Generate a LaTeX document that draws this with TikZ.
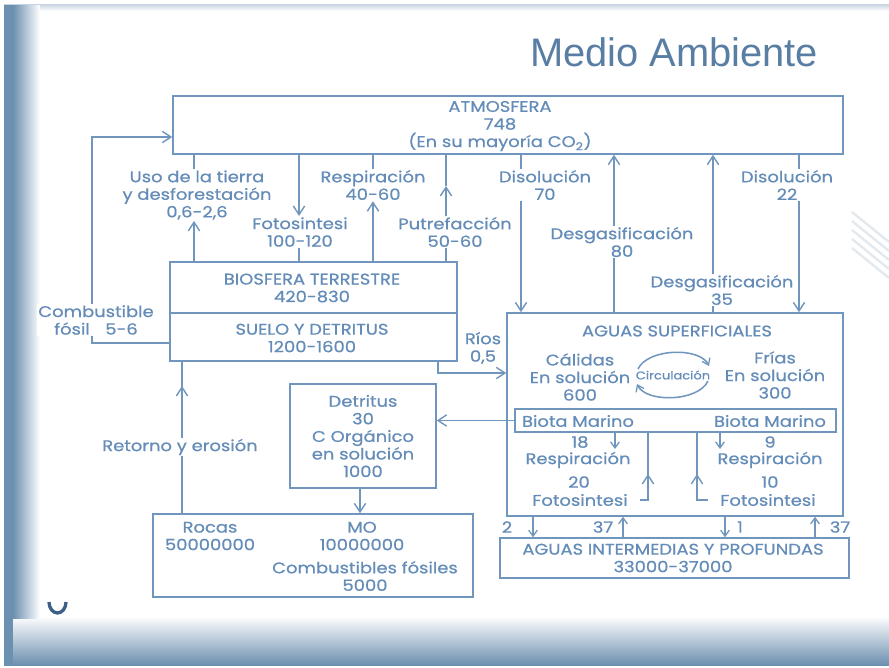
\documentclass[tikz,border=0pt]{standalone}
\usepackage{fontspec}
\setmainfont{Poppins}[FakeStretch=1.16,FakeBold=0.6]
\newfontfamily\titlefont{Liberation Sans}
\usetikzlibrary{arrows.meta,fit,shapes.geometric}
\definecolor{lc}{RGB}{112,150,190}
\definecolor{tx}{RGB}{100,140,184}
\definecolor{ttl}{RGB}{88,126,163}
\definecolor{band}{RGB}{108,144,176}
\definecolor{umark}{RGB}{62,95,135}
\begin{document}
\begin{tikzpicture}[x=0.03cm,y=-0.03cm,
  box/.style={draw=lc,line width=1.3pt,inner sep=0pt},
  txt/.style={text=tx,font=\fontsize{13.2}{15}\selectfont,align=center,inner sep=1pt},
  stxt/.style={txt,font=\fontsize{9.6}{10}\selectfont},
  lbl/.style={txt,fill=white},
  wire/.style={draw=lc,line width=1.3pt},
  arr/.style={wire,-{Straight Barb[length=2.6mm,width=3.4mm,line width=1.2pt]}},
  sarr/.style={wire,-{Straight Barb[length=1.8mm,width=2.6mm,line width=1.1pt]}}]
% ---------- slide background ----------
\useasboundingbox (0,0) rectangle (889,668);
\fill[white] (0,0) rectangle (889,668);
\shade[top color=band!40,bottom color=white] (4,4) rectangle (889,11);
\shade[top color=white,middle color=band!30,bottom color=band] (4,616) rectangle (889,665);
\fill[band] (4,5) rectangle (13,665);
\shade[left color=band,right color=white] (13,5) rectangle (40,618);
\foreach \k in {0,9,18,27,36} {\draw[band!20,line width=2pt] (852,212+\k) -- (889,242+\k);}
\draw[umark,line width=2.8pt] (49,602) arc[start angle=180,end angle=360,x radius=8.5,y radius=-11];
\node[font=\titlefont\fontsize{34}{40}\selectfont,text=ttl,anchor=base] (title) at (674,66) {Medio Ambiente};
% ---------- boxes ----------
\coordinate (a1) at (173,96); \coordinate (a2) at (843,154);
\node[box,fit=(a1)(a2)] (atm) {};
\coordinate (b1) at (170,262); \coordinate (b2) at (457,361);
\node[box,fit=(b1)(b2)] (bio) {};
\coordinate (bd) at (0,313);
\draw[wire] (bd -| bio.west) -- (bd -| bio.east);
\coordinate (w1) at (507,313); \coordinate (w2) at (843,516);
\node[box,fit=(w1)(w2)] (ags) {};
\coordinate (m1) at (515,409); \coordinate (m2) at (836,432);
\node[box,line width=1pt,fit=(m1)(m2)] (biota) {};
\coordinate (d1) at (290,384); \coordinate (d2) at (436,488);
\node[box,fit=(d1)(d2)] (det) {};
\coordinate (r1) at (153,514); \coordinate (r2) at (473,597);
\node[box,fit=(r1)(r2)] (roc) {};
\coordinate (i1) at (500,538); \coordinate (i2) at (849,578);
\node[box,fit=(i1)(i2)] (agi) {};
% ---------- box texts ----------
\node[txt] (atmt) at (500,126) {ATMOSFERA\\748\\(En su mayoría CO\textsubscript{2})};
\node[txt] (biot) at (312,288) {BIOSFERA TERRESTRE\\420-830};
\node[txt] (suel) at (312,338) {SUELO Y DETRITUS\\1200-1600};
\node[txt] (agst) at (677,331) {AGUAS SUPERFICIALES};
\node[txt] (cal) at (580,377) {Cálidas\\En solución\\600};
\node[txt] (fri) at (775,375) {Frías\\En solución\\300};
\node[ellipse,minimum width=73*0.03cm,minimum height=46*0.03cm,inner sep=0pt,stxt] (circ) at (673,375) {Circulación};
\draw[sarr] (638,369) .. controls (648,348) and (700,347) .. (709,366);
\draw[sarr] (708,381) .. controls (698,402) and (646,403) .. (637,384);
\node[txt] (bm1) at (578,421) {Biota Marino};
\node[txt] (bm2) at (770,421) {Biota Marino};
\node[txt] (n18) at (580,442) {18};
\node[txt] (rs1) at (578,460) {Respiración};
\node[txt] (n20) at (579,482) {20};
\node[txt] (fs1) at (580,500) {Fotosintesi};
\node[txt] (n9) at (770,442) {9};
\node[txt] (rs2) at (770,460) {Respiración};
\node[txt] (n10) at (770,482) {10};
\node[txt] (fs2) at (768,500) {Fotosintesi};
\node[txt] (agit) at (673,558) {AGUAS INTERMEDIAS Y PROFUNDAS\\33000-37000};
\node[txt] (dett) at (363,436) {Detritus\\30\\C Orgánico\\en solución\\1000};
\node[txt] (rocas) at (210,536) {Rocas\\50000000};
\node[txt] (mo) at (362,536) {MO\\10000000};
\node[txt] (cfos) at (365,576) {Combustibles fósiles\\5000};
\node[txt] (e1t) at (507,527) {2};
\node[txt] (e2t) at (603,527) {37};
\node[txt] (e3t) at (740,527) {1};
\node[txt] (e4t) at (840,527) {37};
% ---------- helper coordinates ----------
\coordinate (xU) at (194,0);
\coordinate (xF) at (299,0);
\coordinate (xR) at (373,0);
\coordinate (xP) at (446,0);
\coordinate (xD1) at (521,0);
\coordinate (xG1) at (614,0);
\coordinate (xG2) at (713,0);
\coordinate (xD2) at (799,0);
\coordinate (xRt) at (182,0);
\coordinate (xDR) at (360,0);
\coordinate (cA) at (92,137);
\coordinate (cB) at (92,343);
\coordinate (rr) at (438,373);
\coordinate (rtTip) at (182,386);
\coordinate (pTip) at (446,186);
% ---------- connectors under labels ----------
\draw[arr] (xG1 |- ags.north) -- (xG1 |- atm.south);
\draw[arr] (xG2 |- ags.north) -- (xG2 |- atm.south);
\draw[arr] (cB -| bio.west) -- (cB) -- (cA) -- (cA -| atm.west);
\draw[wire] (xRt |- roc.north) -- (xRt |- bio.south);
\draw[arr] (xRt |- roc.north) -- (rtTip);
% ---------- labels ----------
\node[lbl] (uso) at (197,195) {Uso de la tierra\\y desforestación\\0,6-2,6};
\node[lbl] (foto) at (300,232) {Fotosintesi\\100-120};
\node[lbl] (resp) at (373,185) {Respiración\\40-60};
\node[lbl] (putre) at (455,232) {Putrefacción\\50-60};
\node[lbl] (d70) at (545,185) {Disolución\\70};
\node[lbl] (g80) at (622,242) {Desgasificación\\80};
\node[lbl] (g35) at (722,290) {Desgasificación\\35};
\node[lbl] (d22) at (787,185) {Disolución\\22};
\node[lbl] (comb) at (96,320) {Combustible\\fósil\quad 5-6};
\node[lbl] (rios) at (483,348) {Ríos\\0,5};
\node[lbl] (ret) at (180,447) {Retorno y erosión};
% ---------- connectors to labels ----------
\draw[arr] (xU |- bio.north) -- (xU |- uso.south);
\draw[wire] (xU |- uso.north) -- (xU |- atm.south);
\draw[arr] (xF |- atm.south) -- (xF |- foto.north);
\draw[wire] (xF |- foto.south) -- (xF |- bio.north);
\draw[arr] (xR |- bio.north) -- (xR |- resp.south);
\draw[wire] (xR |- resp.north) -- (xR |- atm.south);
\draw[arr] (xP |- putre.north) -- (pTip);
\draw[wire] (pTip) -- (xP |- atm.south);
\draw[wire] (xP |- putre.south) -- (xP |- bio.north);
\draw[wire] (xD1 |- atm.south) -- (xD1 |- d70.north);
\draw[arr] (xD1 |- d70.south) -- (xD1 |- ags.north);
\draw[wire] (xD2 |- atm.south) -- (xD2 |- d22.north);
\draw[arr] (xD2 |- d22.south) -- (xD2 |- ags.north);
\draw[arr] (rr |- bio.south) |- (rr -| ags.west);
\draw[arr] (biota.west) -- (biota.west -| det.east);
\draw[arr] (xDR |- det.south) -- (xDR |- roc.north);
% ---------- marine biota fluxes ----------
\coordinate (s1) at (615,449); \draw[sarr] (s1 |- biota.south) -- (s1);
\coordinate (s2) at (720,449); \draw[sarr] (s2 |- biota.south) -- (s2);
\coordinate (h1) at (640,500); \coordinate (f1) at (648,500); \coordinate (t1) at (648,474);
\draw[wire] (h1) -- (f1) -- (f1 |- biota.south);
\draw[arr] (f1) -- (t1);
\coordinate (h2) at (708,500); \coordinate (f2) at (697,500); \coordinate (t2) at (697,474);
\draw[wire] (h2) -- (f2) -- (f2 |- biota.south);
\draw[arr] (f2) -- (t2);
% ---------- exchange with deep waters ----------
\coordinate (e1) at (533,0); \draw[sarr] (e1 |- ags.south) -- (e1 |- agi.north);
\coordinate (e2) at (623,0); \draw[sarr] (e2 |- agi.north) -- (e2 |- ags.south);
\coordinate (e3) at (725,0); \draw[sarr] (e3 |- ags.south) -- (e3 |- agi.north);
\coordinate (e4) at (815,0); \draw[sarr] (e4 |- agi.north) -- (e4 |- ags.south);
\end{tikzpicture}
\end{document}
